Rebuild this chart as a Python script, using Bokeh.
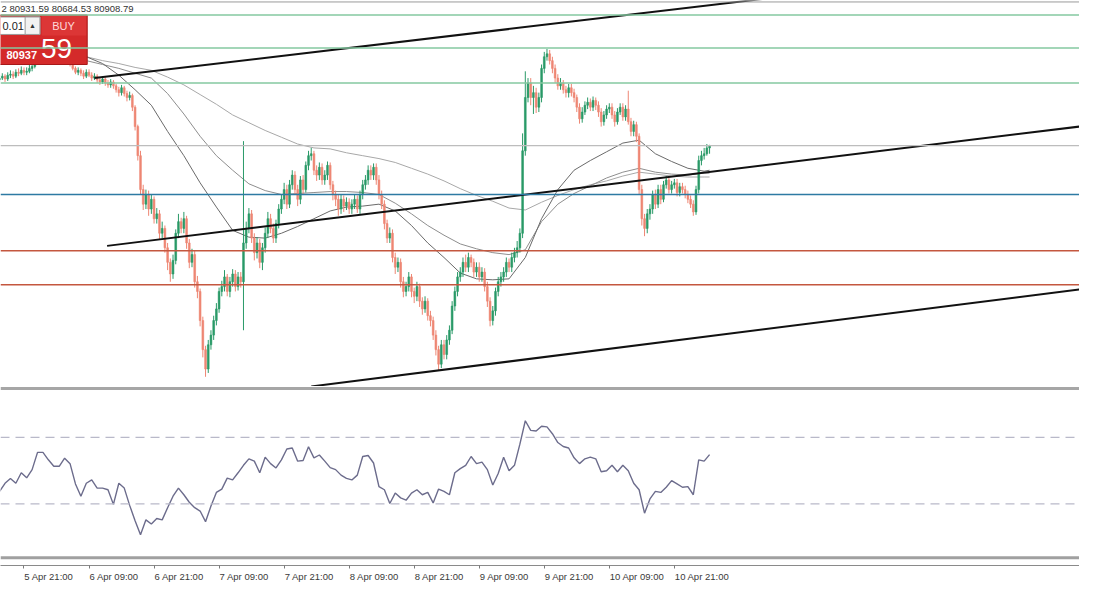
import pandas as pd
from bokeh.plotting import figure
from bokeh.models import Range1d, Span, FixedTicker, ColumnDataSource
from bokeh.layouts import column
from bokeh.embed import file_html
from bokeh.resources import INLINE
from bokeh.core.properties import value

# ---------------- data (BTCUSD, M30) ----------------
first_candle_time = "2025-04-05 16:30"
candle_minutes = 30
first_open = 82736

closes = [
    82790, 82844, 82763, 82871, 82898, 82844, 82952, 82925, 83006, 82952,
    82979, 83060, 83114, 83222, 83276, 83330, 83384, 83357, 83438, 83411,
    83384, 83330, 83357, 83303, 83384, 83276, 83168, 83060, 82952, 83006,
    82925, 82844, 82952, 82871, 82790, 82844, 82736, 82682, 82763, 82655,
    82601, 82682, 82574, 82466, 82385, 82520, 82358, 82250, 82304, 81980,
    81440, 80630, 79685, 79280, 79550, 79145, 79415, 78875, 79010, 78470,
    78605, 78065, 77660, 77336, 77714, 78470, 78794, 78605, 78875, 78200,
    77660, 77876, 77120, 76850, 76040, 75230, 74690, 75365, 75635, 76040,
    76364, 76850, 76985, 77255, 76850, 77120, 77336, 76985, 77255, 77120,
    78200, 78605, 79010, 78335, 77930, 78200, 77660, 78065, 78470, 78875,
    78605, 78335, 78740, 79145, 79415, 79685, 79280, 79820, 80090, 79685,
    79415, 79955, 79685, 80360, 80630, 80684, 80225, 80090, 80306, 79955,
    80090, 80360, 79820, 79550, 79415, 79145, 79415, 79226, 79334, 79145,
    79280, 79415, 79145, 79550, 79820, 79955, 80225, 80090, 80306, 79955,
    79550, 79280, 78740, 78335, 78470, 77795, 77525, 77660, 77120, 76850,
    76985, 77255, 76850, 76715, 76985, 76580, 76364, 76580, 76175, 76040,
    75635, 75230, 74825, 75365, 75095, 75500, 75770, 76445, 76850, 77255,
    77390, 77660, 77525, 77795, 77660, 77390, 77525, 77255, 77390, 76985,
    76580, 76040, 76310, 76850, 77120, 77255, 77390, 77660, 77525, 77795,
    77930, 78065, 78470, 80765, 82250, 82655, 82250, 82385, 81980, 82250,
    83060, 83384, 83465, 83276, 83060, 82790, 82574, 82655, 82466, 82385,
    82520, 82385, 82250, 81980, 81656, 81845, 82034, 82115, 81980, 82169,
    82034, 81845, 81575, 81764, 81926, 81980, 81764, 81575, 81845, 81980,
    81710, 81926, 81575, 81305, 81494, 81170, 79685, 78875, 78605, 79010,
    79145, 79550, 79280, 79685, 79415, 79820, 79955, 79685, 79820, 79874,
    79604, 79766, 79685, 79550, 79415, 79280, 79064, 79685, 80495, 80630,
    80684, 80846.12, 80908.79,
]

highs = [
    82871, 82925, 82898, 82952, 83006, 82979, 83033, 83060, 83114, 83087,
    83087, 83168, 83222, 83303, 83384, 83438, 83492, 83465, 83546, 83519,
    83492, 83465, 83438, 83411, 83465, 83438, 83330, 83222, 83114, 83087,
    83060, 83006, 83033, 83033, 82952, 82925, 82898, 82817, 82844, 82817,
    82736, 82763, 82736, 82628, 82547, 82601, 82574, 82439, 82412, 82358,
    82034, 81494, 80765, 79820, 79685, 79658, 79550, 79496, 79172, 79118,
    78794, 78686, 78200, 77768, 77876, 78578, 79010, 78902, 79064, 78956,
    78308, 78038, 77984, 77282, 76931, 76148, 75338, 75500, 75770, 76175,
    76526, 76958, 77147, 77444, 77336, 77255, 77471, 77444, 77390, 77390,
    81035, 78794, 79172, 79118, 78470, 78362, 78308, 78200, 78632, 79064,
    79010, 78740, 78848, 79280, 79550, 79874, 79820, 79955, 80225, 80198,
    79820, 80063, 80090, 80468, 80765, 80846, 80765, 80360, 80441, 80414,
    80225, 80468, 80441, 79928, 79658, 79550, 79550, 79523, 79469, 79442,
    79415, 79550, 79523, 79658, 79955, 80090, 80360, 80360, 80414, 80414,
    80090, 79658, 79388, 78848, 78632, 78578, 77930, 77795, 77768, 77255,
    77120, 77390, 77336, 76958, 77120, 77066, 76688, 76715, 76661, 76310,
    76148, 75770, 75338, 75500, 75500, 75635, 75905, 76580, 76985, 77390,
    77525, 77795, 77876, 77930, 77876, 77768, 77660, 77660, 77525, 77498,
    77120, 76688, 76445, 76958, 77255, 77390, 77525, 77795, 77768, 77930,
    78065, 78254, 78605, 81251, 82979, 82790, 82790, 82574, 82520, 82385,
    83168, 83519, 83600, 83573, 83384, 83168, 82898, 82790, 82736, 82574,
    82628, 82628, 82493, 82331, 82088, 81980, 82142, 82250, 82223, 82277,
    82250, 82142, 81953, 81872, 82034, 82088, 82088, 81872, 81953, 82088,
    82088, 82034, 82439, 81683, 81602, 81575, 81251, 79820, 79010, 79145,
    79280, 79658, 79685, 79820, 79820, 79928, 80063, 80063, 79928, 79982,
    79982, 79874, 79874, 79793, 79658, 79523, 79388, 79793, 80630, 80765,
    80846, 80954, 80931.59,
]

lows = [
    82682, 82736, 82682, 82709, 82790, 82763, 82790, 82844, 82871, 82871,
    82871, 82925, 82979, 83060, 83168, 83222, 83276, 83276, 83303, 83330,
    83303, 83249, 83249, 83222, 83222, 83195, 83114, 83006, 82898, 82871,
    82844, 82763, 82790, 82817, 82709, 82736, 82655, 82601, 82628, 82574,
    82520, 82520, 82493, 82385, 82277, 82304, 82277, 82142, 82169, 81872,
    81332, 80495, 79550, 79118, 79145, 78956, 79010, 78740, 78740, 78308,
    78335, 77930, 77444, 77120, 77201, 77606, 78335, 78470, 78470, 78038,
    77498, 77525, 76958, 76661, 75878, 75014, 74474, 74582, 75230, 75500,
    75905, 76256, 76715, 76850, 76715, 76688, 76985, 76850, 76877, 76958,
    75770, 78038, 78470, 78200, 77714, 77768, 77498, 77444, 77930, 78335,
    78470, 78200, 78200, 78605, 79010, 79280, 79145, 79172, 79685, 79550,
    79226, 79280, 79550, 79604, 80225, 80495, 80090, 79928, 79955, 79820,
    79820, 79955, 79685, 79388, 79226, 78956, 79010, 79064, 79118, 79010,
    79010, 79145, 79037, 79010, 79415, 79685, 79820, 79955, 79955, 79820,
    79415, 79145, 78578, 78200, 78200, 77660, 77336, 77390, 76958, 76688,
    76715, 76850, 76688, 76526, 76580, 76418, 76202, 76256, 76040, 75878,
    75500, 75068, 74636, 74717, 74960, 74960, 75365, 75662, 76310, 76715,
    77120, 77255, 77390, 77390, 77525, 77255, 77255, 77120, 77120, 76850,
    76418, 75878, 75905, 76175, 76715, 76985, 77120, 77255, 77390, 77390,
    77660, 77795, 77930, 78335, 80630, 82115, 82034, 81791, 81818, 81845,
    82115, 82925, 83276, 83168, 82925, 82655, 82466, 82466, 82358, 82250,
    82250, 82277, 82115, 81845, 81521, 81548, 81764, 81926, 81872, 81872,
    81899, 81710, 81440, 81467, 81656, 81818, 81656, 81440, 81494, 81764,
    81602, 81602, 81494, 81170, 81170, 81008, 79550, 78686, 78389, 78470,
    78848, 79010, 79145, 79172, 79280, 79334, 79712, 79577, 79577, 79712,
    79496, 79496, 79577, 79442, 79307, 79172, 78956, 78983, 79577, 80360,
    80522, 80630, 80684.53,
]

# moving averages, sampled every 6th candle from candle 32 plus the last candle
ma_first_candle = 32
ma_every = 6
ma_fast = [83384, 83195, 82871, 82466, 82034, 81305, 80630, 79874, 79199, 78551,
           78362, 78335, 78470, 78659, 78875, 79091, 79199, 79226, 79280, 79091,
           78686, 78200, 77795, 77363, 77201, 77174, 77201, 77795, 78875, 79685,
           80225, 80495, 80738, 80981, 81062, 80684, 80468, 80279, 80198, 80225]
ma_mid = [83276, 83168, 83060, 82925, 82790, 82358, 81791, 81170, 80630, 80225,
          79847, 79658, 79550, 79577, 79604, 79631, 79631, 79604, 79550, 79307,
          79010, 78686, 78416, 78173, 78038, 77930, 77876, 78011, 78794, 79280,
          79577, 79793, 80009, 80171, 80279, 80171, 80117, 80090, 80144, 80144]
ma_slow = [83384, 83276, 83195, 83087, 83006, 82817, 82601, 82331, 82061, 81764,
           81548, 81332, 81143, 80954, 80846, 80819, 80711, 80630, 80549, 80441,
           80279, 80117, 79928, 79712, 79523, 79361, 79172, 79118, 79334, 79523,
           79685, 79820, 79928, 80063, 80171, 80117, 80063, 80036, 80036, 80036]

# RSI, one value per hour (every second candle)
rsi_values = [
    37.5, 42.4, 45.3, 42.4, 48.7, 45.7, 50.6, 61.0, 61.0, 56.5,
    52.6, 52.6, 57.5, 54.2, 42.0, 34.6, 42.4, 44.4, 39.5, 39.5,
    38.5, 29.7, 42.4, 39.5, 29.1, 19.9, 11.4, 20.4, 17.9, 21.2,
    20.4, 27.7, 34.6, 39.5, 35.5, 31.0, 27.7, 25.7, 19.3, 28.7,
    36.9, 38.9, 45.5, 44.4, 48.7, 53.2, 57.1, 55.7, 48.7, 58.1,
    54.2, 51.6, 56.5, 63.0, 63.6, 55.7, 56.1, 64.4, 57.7, 59.4,
    55.7, 51.8, 50.6, 47.3, 45.3, 44.4, 47.3, 58.5, 59.1, 54.6,
    40.4, 38.5, 30.2, 36.5, 33.6, 32.2, 36.5, 38.5, 35.5, 36.9,
    30.6, 38.9, 37.5, 35.5, 48.7, 51.2, 53.2, 58.5, 54.2, 55.1,
    50.6, 41.4, 48.3, 58.1, 49.9, 53.2, 65.9, 80.0, 74.2, 73.8,
    76.7, 76.3, 72.2, 66.9, 64.5, 63.6, 57.7, 54.2, 57.1, 58.1,
    57.1, 49.3, 49.9, 53.2, 49.3, 53.2, 49.9, 42.4, 38.5, 24.4,
    33.0, 37.5, 36.9, 40.0, 44.0, 42.0, 40.0, 40.4, 35.5, 56.5,
    55.7, 59.6,
]
rsi_levels = [70, 30]

resistance_levels = [84545, 83627, 82655]
pivot_level = 79550
support_levels = [77984, 77039]

channel_upper = [("2025-04-06 10:00", 82790), ("2025-04-13 00:00", 85613)]
channel_middle = [("2025-04-06 12:20", 78119), ("2025-04-14 00:00", 81445)]
channel_lower = [("2025-04-08 02:00", 74205), ("2025-04-14 00:00", 76909)]

tick_labels = ["5 Apr 21:00", "6 Apr 09:00", "6 Apr 21:00", "7 Apr 09:00",
               "7 Apr 21:00", "8 Apr 09:00", "8 Apr 21:00", "9 Apr 09:00",
               "9 Apr 21:00", "10 Apr 09:00", "10 Apr 21:00"]

ohlc_header = "2 80931.59 80684.53 80908.79"
lot_text = "0.01"
ask_main = "80937"
ask_pips = "59"

# ---------------- geometry of the view ----------------
T0 = pd.Timestamp("2025-04-05 16:40")
PX_PER_HOUR = 5.5          # reference pixels per hour
P_TOP = 84950              # price at the top edge of the price panel
PRICE_PER_PX = 27.0
VIEW_W = 1095
MAIN_H_REF = 398

def ref(xpx, ypx):
    """Overlay anchor given in reference-picture pixels -> (time, price)."""
    return T0 + pd.Timedelta(hours=xpx / PX_PER_HOUR), P_TOP - PRICE_PER_PX * ypx

T1 = T0 + pd.Timedelta(hours=VIEW_W / PX_PER_HOUR)
x_range = Range1d(T0, T1)
y_main = Range1d(P_TOP - PRICE_PER_PX * MAIN_H_REF, P_TOP)

FONT = "Liberation Sans"
W = 1079

# ---------------- price panel ----------------
p1 = figure(width=W, height=386, x_range=x_range, y_range=y_main,
            x_axis_type="datetime", x_axis_location=None, y_axis_location=None,
            output_backend="svg", toolbar_location=None, min_border=0)
p1.grid.visible = False
p1.outline_line_color = None
p1.background_fill_color = "white"
p1.border_fill_color = "white"

times = pd.date_range(first_candle_time, periods=len(closes), freq=f"{candle_minutes}min")
opens = [first_open] + closes[:-1]
colors = ["#2a9a68" if c >= o else "#ee8774" for o, c in zip(opens, closes)]
src = ColumnDataSource(dict(
    t=times, h=highs, l=lows,
    top=[max(o, c) for o, c in zip(opens, closes)],
    bottom=[min(o, c) for o, c in zip(opens, closes)],
    color=colors))

# horizontal levels
for lv in resistance_levels:
    p1.add_layout(Span(location=lv, dimension="width", line_color="#84c9a0", line_width=1.6))
p1.add_layout(Span(location=closes[-1], dimension="width", line_color="#bdbdbd", line_width=1.2))
p1.add_layout(Span(location=pivot_level, dimension="width", line_color="#2d7aa3", line_width=1.5))
for lv in support_levels:
    p1.add_layout(Span(location=lv, dimension="width", line_color="#c4573f", line_width=1.5))

# moving averages
ma_idx = list(range(ma_first_candle, len(closes) - 2, ma_every)) + [len(closes) - 1]
ma_t = times[ma_idx]
p1.line(ma_t, ma_slow, line_color="#a8a8a8", line_width=1)
p1.line(ma_t, ma_mid, line_color="#8e8e8e", line_width=1)
p1.line(ma_t, ma_fast, line_color="#6a6a6a", line_width=1)

# candles
p1.segment(x0="t", y0="h", x1="t", y1="l", line_color="color", line_width=1, source=src)
p1.vbar(x="t", width=candle_minutes * 0.65 * 60 * 1000, top="top", bottom="bottom",
        fill_color="color", line_color="color", line_width=0.6, source=src)

# channel lines
for ch in (channel_upper, channel_middle, channel_lower):
    (ta, pa), (tb, pb) = ch
    p1.segment(x0=[pd.Timestamp(ta)], y0=[pa], x1=[pd.Timestamp(tb)], y1=[pb],
               line_color="#111111", line_width=2)

# top border
p1.add_layout(Span(location=ref(0, 1.5)[1], dimension="width", line_color="#9a9a9a", line_width=1))

# header text
hx, hy = ref(1, 8)
p1.text(x=[hx], y=[hy], text=[ohlc_header], text_font=value(FONT), text_font_size="9.5px",
        text_color="#333333", text_align="left", text_baseline="middle")

# one-click trading panel
def box(x0, y0, x1, y1, **kw):
    a, b = ref(x0, y0)
    c, d = ref(x1, y1)
    p1.quad(left=[a], right=[c], top=[b], bottom=[d], **kw)

def label(x, y, s, size, color, align="left", style="normal"):
    a, b = ref(x, y)
    p1.text(x=[a], y=[b], text=[s], text_font=value(FONT), text_font_size=size,
            text_color=color, text_align=align, text_baseline="middle",
            text_font_style=style)

box(-5, 15, 88, 66, fill_color="#d42a2a", line_color="#a81818", line_width=1)
box(42, 16, 87, 36, fill_color="#dc3636", line_color=None)
box(-5, 17, 40, 35, fill_color="white", line_color="#9a9a9a", line_width=1)
box(25, 17, 40, 35, fill_color="#f2f2f2", line_color="#9a9a9a", line_width=1)
label(2, 26.5, lot_text, "11px", "#222222")
label(32.5, 26, "\u25B2", "7px", "#333333", align="center")
label(64, 26.5, "BUY", "11px", "#ffd9d9", align="center")
label(6, 56.5, ask_main, "11px", "white", style="bold")
label(41, 50, ask_pips, "28px", "white")

# ---------------- RSI panel ----------------
RSI_TOP, RSI_BOTTOM = 100.6, -7.06
p2 = figure(width=W, height=198, x_range=x_range, y_range=Range1d(RSI_BOTTOM, RSI_TOP),
            x_axis_type="datetime", y_axis_location=None,
            output_backend="svg", toolbar_location=None, min_border=0)
p2.grid.visible = False
p2.outline_line_color = None
p2.background_fill_color = "white"
p2.border_fill_color = "white"

p2.add_layout(Span(location=RSI_TOP - 1.2, dimension="width", line_color="#a6a6a6", line_width=3))
for lv in rsi_levels:
    p2.add_layout(Span(location=lv, dimension="width", line_color="#b9b9c9",
                       line_width=1.2, line_dash="9 6"))
p2.add_layout(Span(location=-2.35, dimension="width", line_color="#a0a0a0", line_width=3))

p2.line(times[::2], rsi_values, line_color="#6c6c8c", line_width=1.4)

tick_times = [pd.to_datetime("2025 " + s, format="%Y %d %b %H:%M") for s in tick_labels]
tick_ms = [int(t.value // 10**6) for t in tick_times]

# MetaTrader writes each time label starting at its tick, while the axis centres
# labels: lead each label with no-break spaces so that its text starts on the tick
# (the axis keeps labels inside the canvas, so the first one needs fewer).
NBSP_PX = 0.278 * 9.5
def padded(t, s):
    n = round(1.72 * len(s))
    tick_px = (t - T0) / (T1 - T0) * W
    if tick_px < n * NBSP_PX:
        n = round(tick_px / NBSP_PX)
    return "\u00a0" * n + s

ax = p2.xaxis[0]
ax.ticker = FixedTicker(ticks=tick_ms)
ax.major_label_overrides = {ms: padded(t, s) for ms, t, s in zip(tick_ms, tick_times, tick_labels)}
ax.axis_line_color = "#8a8a8a"
ax.axis_line_width = 1
ax.major_tick_line_color = "#7a7a7a"
ax.major_tick_out = 3
ax.major_tick_in = 0
ax.minor_tick_out = 0
ax.minor_tick_in = 0
ax.major_label_standoff = 2
ax.major_label_text_font = FONT
ax.major_label_text_font_size = "9.5px"
ax.major_label_text_color = "#3a3a3a"

layout = column(p1, p2, spacing=0)
open("out.html", "w").write(file_html(layout, INLINE))
